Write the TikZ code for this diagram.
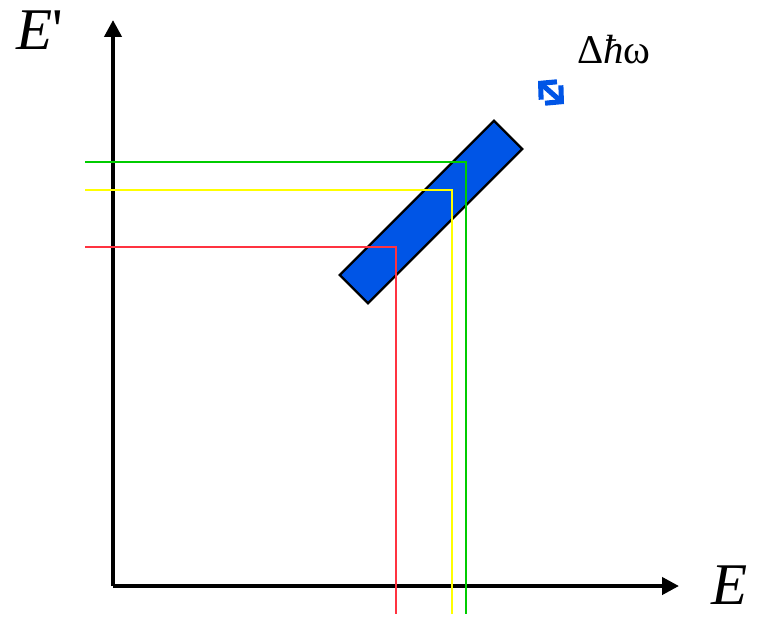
\documentclass[tikz,border=0pt]{standalone}
\usepackage{fontspec}
\setmainfont{Liberation Serif}
\usetikzlibrary{arrows.meta, positioning}
\definecolor{bandBlue}{HTML}{0055E6}
\definecolor{lvGreen}{HTML}{00CC00}
\definecolor{lvYellow}{HTML}{FFFF00}
\definecolor{lvRed}{HTML}{FF3340}

\begin{document}
\begin{tikzpicture}[
  x=0.025cm, y=-0.025cm,
  axis/.style={line width=2.9pt, -{Triangle[length=12pt, width=12pt]}},
  level/.style={line width=2pt},
  band/.style={draw=black, fill=bandBlue, line width=1.6pt, rotate=45,
               minimum width=5.45cm, minimum height=1cm, inner sep=0pt},
  lab/.style={font=\fontsize{42}{46}\selectfont\itshape, inner sep=0pt},
  swing/.style={draw=bandBlue, line width=3.6pt, line cap=round,
                {Straight Barb[length=8pt, width=17pt]}-{Straight Barb[length=8pt, width=17pt]}}
]
  \useasboundingbox (0,0) rectangle (760,618);

  % axes
  \coordinate (O) at (113,586);
  \coordinate (ytip) at (113,20);
  \coordinate (xtip) at (679,586);
  \draw[axis] (O) -- (ytip);
  \draw[axis] (O) -- (xtip);
  \node[lab] (ylab) at (40,30) {E\textup{\textquotesingle}};
  \node[lab] (xlab) at (730,585) {E};

  % band
  \node[band] (bnd) at (431,212) {};

  % levels
  \coordinate (g0) at (85,162);  \coordinate (g1) at (466,614);
  \coordinate (y0) at (85,190);  \coordinate (y1) at (452,614);
  \coordinate (r0) at (85,247);  \coordinate (r1) at (396,614);
  \draw[level, lvGreen] (g0) -| (g1);
  \draw[level, lvYellow] (y0) -| (y1);
  \draw[level, lvRed] (r0) -| (r1);

  % width
  \coordinate (s0) at (538,81);
  \coordinate (s1) at (564,104);
  \draw[swing] (s0) -- (s1);
  \node[font=\fontsize{29}{32}\selectfont, inner sep=0pt] (dw) at (614,50) {Δ\textit{ħ}ω};
\end{tikzpicture}
\end{document}
